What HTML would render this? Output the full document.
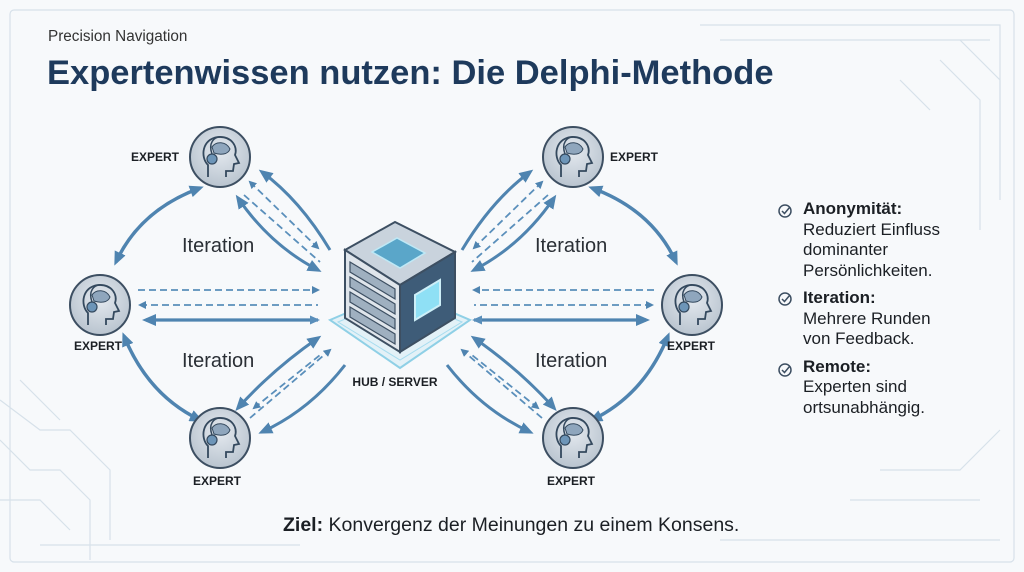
<!DOCTYPE html>
<html><head><meta charset="utf-8"><style>
body{margin:0;width:1024px;height:572px;background:#f7f9fb;overflow:hidden;font-family:"Liberation Sans",sans-serif}
.t{position:absolute;color:#1b1f24}
</style></head><body>
<svg width="1024" height="572" style="position:absolute;left:0;top:0">
<defs>
<marker id="a" markerWidth="8" markerHeight="8" refX="6" refY="4" orient="auto-start-reverse" markerUnits="userSpaceOnUse"><path d="M0,0 L8,4 L0,8 z" fill="#4f84b0"/></marker>
<marker id="b" markerWidth="14" markerHeight="12" refX="10" refY="6" orient="auto-start-reverse" markerUnits="userSpaceOnUse"><path d="M0,0 L14,6 L0,12 z" fill="#4f84b0"/></marker>
<marker id="c" markerWidth="10" markerHeight="9" refX="8" refY="4.5" orient="auto-start-reverse" markerUnits="userSpaceOnUse"><path d="M0,0 L10,4.5 L0,9 z" fill="#5a8fbb"/></marker>
<radialGradient id="g" cx="50%" cy="40%" r="60%"><stop offset="0" stop-color="#e4e9ef"/><stop offset="1" stop-color="#b9c4cf"/></radialGradient>
<g id="head"><circle r="30" fill="url(#g)" stroke="#3d4f62" stroke-width="2"/>
<path d="M-12,20 L-12,8 C-20,0 -18,-18 -2,-20 C12,-21 18,-10 15,-2 L19,6 L14,7 L13,14 L6,14 L6,20" fill="none" stroke="#34495e" stroke-width="1.8"/>
<path d="M-8,-10 C-4,-16 6,-16 10,-8 C8,-2 0,-2 -6,-4z" fill="#8fa6bd" stroke="#34495e" stroke-width="1"/>
<circle cx="-8" cy="2" r="5" fill="#6d95b8" stroke="#34495e" stroke-width="1.2"/>
<path d="M-8,-3 C-12,-14 -6,-20 0,-20" fill="none" stroke="#34495e" stroke-width="1.5"/></g>
</defs>
<g fill="none" stroke="#d7e1ea" stroke-width="1.2">
<rect x="10" y="10" width="1004" height="552" rx="4"/>
<path d="M700,25 H1000 V170 M720,40 H990"/>
<path d="M0,400 L40,430 H70 L110,470 V540 M0,440 L30,470 H60 L90,500 V560 M20,380 L60,420 M0,500 H40 L70,530"/>
<path d="M940,60 L980,100 V230 M960,40 L1000,80 V200 M900,80 L930,110"/>
<path d="M880,470 H960 L1000,430 M850,500 H980"/>
<path d="M40,545 H300 M720,540 H1000"/>
</g>
<g id="L">
<path d="M200,188 Q140,210 116,262" fill="none" stroke="#4f84b0" stroke-width="3.5" marker-start="url(#b)" marker-end="url(#b)"/>
<path d="M124,336 Q148,395 200,420" fill="none" stroke="#4f84b0" stroke-width="3.5" marker-start="url(#b)" marker-end="url(#b)"/>
<path d="M262,172 Q300,200 330,250" fill="none" stroke="#4f84b0" stroke-width="3" marker-start="url(#b)"/>
<path d="M238,198 Q270,245 318,270" fill="none" stroke="#4f84b0" stroke-width="3" marker-start="url(#b)" marker-end="url(#b)"/>
<path d="M250,182 L318,248" fill="none" stroke="#5a8fbb" stroke-width="1.8" stroke-dasharray="7,4" marker-start="url(#a)" marker-end="url(#a)"/>
<path d="M244,195 L320,262" fill="none" stroke="#5a8fbb" stroke-width="1.8" stroke-dasharray="7,4"/>
<path d="M138,290 H318" fill="none" stroke="#5a8fbb" stroke-width="1.8" stroke-dasharray="7,4" marker-end="url(#a)"/>
<path d="M140,305 H318" fill="none" stroke="#5a8fbb" stroke-width="1.8" stroke-dasharray="7,4" marker-start="url(#a)"/>
<path d="M146,320 H318" fill="none" stroke="#4f84b0" stroke-width="3.2" marker-start="url(#b)" marker-end="url(#c)"/>
<path d="M238,408 Q272,370 318,338" fill="none" stroke="#4f84b0" stroke-width="3" marker-start="url(#b)" marker-end="url(#b)"/>
<path d="M250,418 L330,350" fill="none" stroke="#5a8fbb" stroke-width="1.8" stroke-dasharray="7,4" marker-end="url(#a)"/>
<path d="M254,408 L320,355" fill="none" stroke="#5a8fbb" stroke-width="1.8" stroke-dasharray="7,4" marker-start="url(#a)"/>
<path d="M262,432 Q310,410 345,365" fill="none" stroke="#4f84b0" stroke-width="3" marker-start="url(#b)"/>
</g>
<use href="#L" transform="translate(792,0) scale(-1,1)"/>
<use href="#head" x="220" y="157"/><use href="#head" x="100" y="305"/><use href="#head" x="220" y="438"/>
<use href="#head" x="573" y="157"/><use href="#head" x="692" y="305"/><use href="#head" x="573" y="438"/>
<path d="M330,320 L400,290 L470,320 L400,368 z" fill="#e3f1f7" stroke="#8fd0e6" stroke-width="2"/>
<path d="M338,322 L400,296 L462,322 L400,360 z" fill="none" stroke="#a6dcef" stroke-width="1"/>
<path d="M345,250 L395,222 L455,252 L400,285 z" fill="#c9d3dd" stroke="#3d4f62" stroke-width="2"/>
<path d="M372,252 L397,238 L425,253 L400,268 z" fill="#5aa6c9" stroke="#bfe8f5" stroke-width="1.5"/>
<path d="M345,250 L400,285 L400,352 L345,318 z" fill="#dfe5eb" stroke="#3d4f62" stroke-width="2"/>
<path d="M400,285 L455,252 L455,318 L400,352 z" fill="#3e5c78" stroke="#3d4f62" stroke-width="2"/>
<g fill="#9fb0c0" stroke="#3d4f62" stroke-width="1.2">
<path d="M350,262 L395,289 L395,299 L350,272z"/><path d="M350,277 L395,304 L395,314 L350,287z"/><path d="M350,292 L395,319 L395,329 L350,302z"/><path d="M350,307 L395,334 L395,344 L350,317z"/></g>
<path d="M415,295 L440,280 L440,305 L415,320 z" fill="#8fe0f5" stroke="#cdeff8" stroke-width="2"/>
<text x="395" y="386" font-size="12" font-weight="bold" text-anchor="middle" fill="#1b1f24">HUB / SERVER</text>
<g font-size="12" font-weight="bold" fill="#1b1f24">
<text x="131" y="161">EXPERT</text><text x="610" y="161">EXPERT</text>
<text x="74" y="350">EXPERT</text><text x="667" y="350">EXPERT</text>
<text x="193" y="485">EXPERT</text><text x="547" y="485">EXPERT</text></g>
<g font-size="20" fill="#2a2f35">
<text x="182" y="252">Iteration</text><text x="535" y="252">Iteration</text>
<text x="182" y="367">Iteration</text><text x="535" y="367">Iteration</text></g>
<g fill="none" stroke="#3d4f62" stroke-width="1.5">
<circle cx="785" cy="211" r="6"/><path d="M782,211 l2.5,2.5 5,-6"/>
<circle cx="785" cy="299" r="6"/><path d="M782,299 l2.5,2.5 5,-6"/>
<circle cx="785" cy="370" r="6"/><path d="M782,370 l2.5,2.5 5,-6"/></g>
</svg>
<div class="t" style="left:48px;top:28px;font-size:15.3px;color:#333">Precision Navigation</div>
<div class="t" style="left:47px;top:54px;font-size:34.5px;font-weight:bold;color:#1e3a5c">Expertenwissen nutzen: Die Delphi-Methode</div>
<div class="t" style="left:803px;top:199px;font-size:17px;line-height:20.5px">
<b>Anonymität:</b><br>Reduziert Einfluss<br>dominanter<br>Persönlichkeiten.
<div style="height:7px"></div><b>Iteration:</b><br>Mehrere Runden<br>von Feedback.
<div style="height:7px"></div><b>Remote:</b><br>Experten sind<br>ortsunabhängig.</div>
<div class="t" style="left:283px;top:514px;font-size:19.5px"><b>Ziel:</b> Konvergenz der Meinungen zu einem Konsens.</div>
</body></html>
